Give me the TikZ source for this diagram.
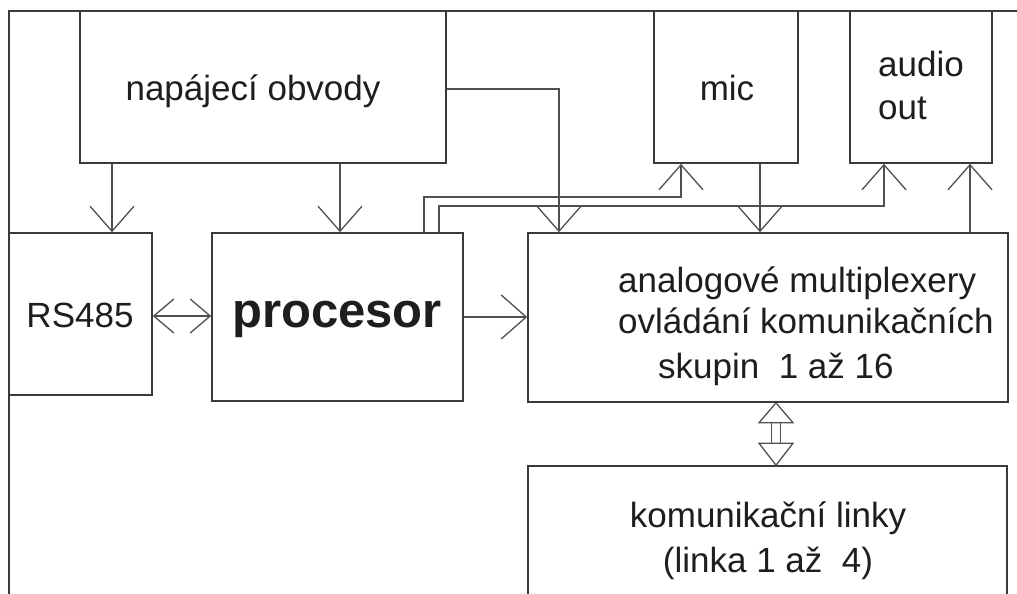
\documentclass[tikz,border=0pt]{standalone}
\usepackage{fontspec}
\setmainfont{Liberation Sans}
\usetikzlibrary{arrows.meta,calc}
\definecolor{boxc}{HTML}{3A3A3A}
\definecolor{conc}{HTML}{505050}
\definecolor{txtc}{HTML}{1E1E1E}
\begin{document}
\begin{tikzpicture}[x=1pt,y=-1pt,
  frm/.style={draw=boxc,line width=1.6pt},
  blk/.style={frm,rectangle,inner sep=0pt},
  lbl/.style={text=txtc,font=\fontsize{35}{42}\selectfont,inner sep=0pt,anchor=base},
  con/.style={draw=conc,line width=1.3pt},
  bt/.tip={Straight Barb[length=25pt,width=44pt]},
  st/.tip={Straight Barb[length=20pt,width=34pt]},
  arr/.style={con,-bt},
  darr/.style={con,st-st}]
\useasboundingbox (0,0) rectangle (1017,594);
\fill[white] (0,0) rectangle (1017,594);
% frame
\draw[frm] (1025,11) -- (9,11) -- (9,600);
% blocks
\node[blk,minimum width=366pt,minimum height=152pt] (nap) at (263,87) {};
\node[blk,minimum width=143pt,minimum height=162pt] (rs) at (80.5,314) {};
\node[blk,minimum width=251pt,minimum height=168pt] (proc) at (337.5,317) {};
\node[blk,minimum width=144pt,minimum height=152pt] (mic) at (726,87) {};
\node[blk,minimum width=142pt,minimum height=152pt] (aud) at (921,87) {};
\node[blk,minimum width=480pt,minimum height=169pt] (an) at (768,317.5) {};
\node[blk,minimum width=479pt,minimum height=170pt] (kom) at (767.5,551) {};
% labels
\node[lbl] (napt) at (253,100) {napájecí obvody};
\node[lbl] (mict) at (727,100) {mic};
\node[lbl,anchor=base west] (audt1) at (878,77) {audio};
\node[lbl,anchor=base west] (audt2) at (878,119) {out};
\node[lbl] (rst) at (80,327) {RS485};
\node[lbl,font=\fontsize{49}{58}\selectfont\bfseries] (proct) at (337,327) {procesor};
\node[lbl,anchor=base west] (ant1) at (618,292) {analogové multiplexery};
\node[lbl,anchor=base west] (ant2) at (618,333) {ovládání komunikačních};
\node[lbl,anchor=base west] (ant3) at (658,378) {skupin\ \ 1 až 16};
\node[lbl] (komt1) at (768,527) {komunikační linky};
\node[lbl] (komt2) at (768,572) {(linka 1 až\ \ 4)};
% helper coordinates
\coordinate (x112) at (112,0);
\coordinate (x340) at (340,0);
\coordinate (x559) at (559,0);
\coordinate (x424) at (424,0);
\coordinate (x439) at (439,0);
\coordinate (x681) at (681,0);
\coordinate (x884) at (884,0);
\coordinate (x760) at (760,0);
\coordinate (x970) at (970,0);
\coordinate (x776) at (776,0);
\coordinate (y89) at (0,89);
\coordinate (y197) at (0,197);
\coordinate (y206) at (0,206);
\coordinate (y316) at (0,316);
% connectors
\draw[arr] (nap.south -| x112) -- (rs.north -| x112);
\draw[arr] (nap.south -| x340) -- (proc.north -| x340);
\draw[arr] (nap.east |- y89) -| (an.north -| x559);
\draw[arr] (proc.north -| x424) |- (x681 |- y197) -- (mic.south -| x681);
\draw[arr] (proc.north -| x439) |- (x884 |- y206) -- (aud.south -| x884);
\draw[arr] (mic.south -| x760) -- (an.north -| x760);
\draw[arr] (an.north -| x970) -- (aud.south -| x970);
\draw[darr] (rs.east |- y316) -- (proc.west |- y316);
\draw[arr] (proc.east) -- (an.west |- proc.east);
% hollow double arrow
\coordinate (dt) at (an.south -| x776);
\coordinate (db) at (kom.north -| x776);
\draw[con,line join=miter] (dt) -- ++(-17,20) -- ++(34,0) -- cycle;
\draw[con,line join=miter] (db) -- ++(-17,-22) -- ++(34,0) -- cycle;
\draw[con] ($(dt)+(-4.5,20)$) -- ($(db)+(-4.5,-22)$);
\draw[con] ($(dt)+(4.5,20)$) -- ($(db)+(4.5,-22)$);
\end{tikzpicture}
\end{document}
